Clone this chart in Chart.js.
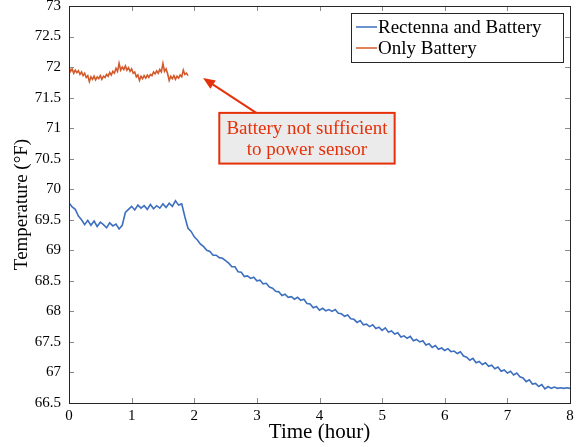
<!DOCTYPE html>
<html>
<head>
<meta charset="utf-8">
<script src="https://cdn.jsdelivr.net/npm/chart.js@4/dist/chart.umd.min.js"></script>
<style>
  html, body { margin: 0; padding: 0; background: #fff; }
  #wrap { width: 576px; height: 447px; }
</style>
</head>
<body>
<div id="wrap"><canvas id="chart"></canvas></div>
<script>
// readings sampled every 0.05 h (blue) and 0.025 h (orange)
const blueStep = 0.05;
const blueTemps = [
    69.78, 69.71, 69.67, 69.56, 69.50, 69.42, 69.49, 69.41, 69.48, 69.39,
    69.46, 69.42, 69.37, 69.45, 69.40, 69.43, 69.35, 69.41, 69.62, 69.67,
    69.72, 69.66, 69.74, 69.69, 69.73, 69.67, 69.75, 69.68, 69.73, 69.69,
    69.76, 69.70, 69.77, 69.72, 69.81, 69.74, 69.76, 69.55, 69.36, 69.31,
    69.22, 69.17, 69.10, 69.06, 69.00, 68.98, 68.92, 68.92, 68.88, 68.87,
    68.83, 68.79, 68.73, 68.73, 68.65, 68.64, 68.57, 68.58, 68.54, 68.56,
    68.50, 68.51, 68.45, 68.46, 68.40, 68.38, 68.33, 68.32, 68.26, 68.28,
    68.23, 68.24, 68.20, 68.23, 68.18, 68.20, 68.13, 68.12, 68.06, 68.08,
    68.02, 68.05, 68.01, 68.03, 68.00, 68.03, 67.97, 67.96, 67.92, 67.94,
    67.88, 67.87, 67.82, 67.85, 67.78, 67.79, 67.75, 67.78, 67.72, 67.74,
    67.69, 67.73, 67.66, 67.68, 67.63, 67.65, 67.58, 67.60, 67.56, 67.59,
    67.52, 67.54, 67.50, 67.52, 67.45, 67.47, 67.41, 67.44, 67.38, 67.40,
    67.36, 67.39, 67.34, 67.35, 67.31, 67.34, 67.27, 67.25, 67.20, 67.23,
    67.16, 67.18, 67.13, 67.16, 67.10, 67.12, 67.06, 67.09, 67.02, 67.04,
    66.99, 67.02, 66.96, 66.99, 66.93, 66.91, 66.85, 66.88, 66.81, 66.82,
    66.77, 66.80, 66.73, 66.77, 66.74, 66.76, 66.74, 66.75, 66.74, 66.75,
    66.74
];

const orangeStep = 0.025;
const orangeTemps = [
    72.00, 71.93, 71.97, 71.90, 71.95, 71.91, 71.94, 71.88, 71.92, 71.86,
    71.90, 71.83, 71.86, 71.76, 71.84, 71.80, 71.85, 71.79, 71.84, 71.81,
    71.86, 71.80, 71.85, 71.83, 71.88, 71.85, 71.91, 71.87, 71.93, 71.90,
    71.98, 71.93, 72.06, 71.95, 72.00, 71.96, 72.02, 71.95, 71.99, 71.93,
    71.97, 71.90, 71.92, 71.84, 71.87, 71.78, 71.85, 71.81, 71.86, 71.82,
    71.87, 71.83, 71.88, 71.86, 71.92, 71.89, 71.94, 71.90, 71.96, 71.92,
    72.06, 71.93, 71.97, 71.89, 71.78, 71.85, 71.81, 71.86, 71.80, 71.85,
    71.82, 71.87, 71.84, 71.95, 71.88, 71.90, 71.86
];

const seriesNames = ['Rectenna and Battery', 'Only Battery'];
const seriesColors = ['#3d6fbf', '#d3592a'];
const xTitle = 'Time (hour)';
const yTitle = 'Temperature (\u00B0F)';
const noteLines = ['Battery not sufficient', 'to power sensor'];

const serif = "'Liberation Serif', 'DejaVu Serif', serif";

const bluePoints = blueTemps.map((y, i) => ({ x: i * blueStep, y }));
const orangePoints = orangeTemps.map((y, i) => ({ x: i * orangeStep, y }));

// frame box + inward ticks on all sides
const frameTicks = {
    id: 'frameTicks',
    afterDraw(chart) {
        const { ctx, chartArea: a, scales } = chart;
        ctx.save();
        ctx.strokeStyle = '#8a8a8a';
        ctx.lineWidth = 1;
        ctx.beginPath();
        scales.x.ticks.forEach(t => {
            const px = Math.round(scales.x.getPixelForValue(t.value)) + 0.5;
            ctx.moveTo(px, a.bottom); ctx.lineTo(px, a.bottom - 5);
            ctx.moveTo(px, a.top); ctx.lineTo(px, a.top + 5);
        });
        scales.y.ticks.forEach(t => {
            const py = Math.round(scales.y.getPixelForValue(t.value)) + 0.5;
            ctx.moveTo(a.left, py); ctx.lineTo(a.left + 5, py);
            ctx.moveTo(a.right, py); ctx.lineTo(a.right - 5, py);
        });
        ctx.stroke();
        ctx.strokeStyle = '#262626';
        ctx.strokeRect(Math.round(a.left) + 0.5, Math.round(a.top) + 0.5,
            Math.round(a.right - a.left), Math.round(a.bottom - a.top));
        ctx.restore();
    }
};

// legend box in the upper right corner
const boxLegend = {
    id: 'boxLegend',
    afterDraw(chart) {
        const { ctx, chartArea: a } = chart;
        const x0 = a.right - 219, y0 = a.top + 7, w = 212, h = 49;
        ctx.save();
        ctx.fillStyle = '#fff';
        ctx.fillRect(x0, y0, w, h);
        ctx.strokeStyle = '#262626';
        ctx.lineWidth = 1;
        ctx.strokeRect(x0 + 0.5, y0 + 0.5, w, h);
        ctx.font = '19px ' + serif;
        ctx.textBaseline = 'middle';
        ctx.fillStyle = '#000';
        chart.data.datasets.forEach((ds, i) => {
            const yy = y0 + 14 + i * 21;
            ctx.strokeStyle = ds.borderColor;
            ctx.lineWidth = 1.5;
            ctx.beginPath();
            ctx.moveTo(x0 + 5, yy); ctx.lineTo(x0 + 26, yy);
            ctx.stroke();
            ctx.fillText(ds.label, x0 + 27, yy + 1);
        });
        ctx.restore();
    }
};

// red note with arrow pointing at the orange trace
const note = {
    id: 'note',
    afterDraw(chart) {
        const { ctx, scales: { x, y } } = chart;
        const red = '#e5310b';
        const bx0 = x.getPixelForValue(2.4), bx1 = x.getPixelForValue(5.2);
        const by0 = y.getPixelForValue(71.25), by1 = y.getPixelForValue(70.42);
        const tipX = x.getPixelForValue(2.14), tipY = y.getPixelForValue(71.82);
        const tailX = x.getPixelForValue(2.99), tailY = by0;
        ctx.save();
        ctx.strokeStyle = red;
        ctx.fillStyle = red;
        ctx.lineWidth = 2;
        const ang = Math.atan2(tipY - tailY, tipX - tailX);
        const hl = 12, hw = 5;
        const baseX = tipX - hl * Math.cos(ang), baseY = tipY - hl * Math.sin(ang);
        ctx.beginPath();
        ctx.moveTo(tailX, tailY); ctx.lineTo(baseX, baseY);
        ctx.stroke();
        ctx.beginPath();
        ctx.moveTo(tipX, tipY);
        ctx.lineTo(baseX + hw * Math.sin(ang), baseY - hw * Math.cos(ang));
        ctx.lineTo(baseX - hw * Math.sin(ang), baseY + hw * Math.cos(ang));
        ctx.closePath();
        ctx.fill();
        ctx.fillStyle = '#ebebeb';
        ctx.fillRect(bx0, by0, bx1 - bx0, by1 - by0);
        ctx.strokeRect(bx0, by0, bx1 - bx0, by1 - by0);
        ctx.fillStyle = red;
        ctx.font = '19px ' + serif;
        ctx.textAlign = 'center';
        ctx.textBaseline = 'middle';
        const cx = (bx0 + bx1) / 2;
        ctx.fillText(noteLines[0], cx, by0 + 16);
        ctx.fillText(noteLines[1], cx, by0 + 37);
        ctx.restore();
    }
};

new Chart(document.getElementById('chart'), { // eslint-disable-line
    type: 'line',
    data: {
        datasets: [{
            label: seriesNames[0],
            data: bluePoints,
            borderColor: seriesColors[0],
            borderWidth: 1.6,
            pointRadius: 0,
            tension: 0
        }, {
            label: seriesNames[1],
            data: orangePoints,
            borderColor: seriesColors[1],
            borderWidth: 1.6,
            pointRadius: 0,
            tension: 0
        }]
    },
    options: {
        responsive: true,
        maintainAspectRatio: false,
        animation: false,
        layout: { padding: { top: 6, right: 6, left: 0, bottom: 0 } },
        plugins: {
            legend: { display: false },
            tooltip: { enabled: false }
        },
        scales: {
            x: {
                type: 'linear',
                min: 0,
                max: 8,
                grid: { display: false, drawTicks: false },
                border: { display: false },
                ticks: {
                    stepSize: 1,
                    padding: 4,
                    color: '#000',
                    font: { family: serif, size: 15 },
                    maxRotation: 0
                },
                title: {
                    display: true,
                    text: xTitle,
                    color: '#000',
                    font: { family: serif, size: 21 },
                    padding: { top: 0, bottom: 2 }
                },
                afterFit(scale) {
                    scale.height = 44;
                    scale.paddingLeft = 0;
                    scale.paddingRight = 0;
                }
            },
            y: {
                type: 'linear',
                min: 66.5,
                max: 73,
                grid: { display: false, drawTicks: false },
                border: { display: false },
                ticks: {
                    stepSize: 0.5,
                    padding: 8,
                    color: '#000',
                    font: { family: serif, size: 15 },
                    callback: v => String(Math.round(v * 10) / 10)
                },
                title: {
                    display: true,
                    text: yTitle,
                    color: '#000',
                    font: { family: serif, size: 19 },
                    padding: { top: 11, bottom: 0 }
                },
                afterFit(scale) {
                    scale.width = 69;
                    scale.paddingTop = 0;
                    scale.paddingBottom = 0;
                }
            }
        }
    },
    plugins: [frameTicks, boxLegend, note]
});
</script>
</body>
</html>
